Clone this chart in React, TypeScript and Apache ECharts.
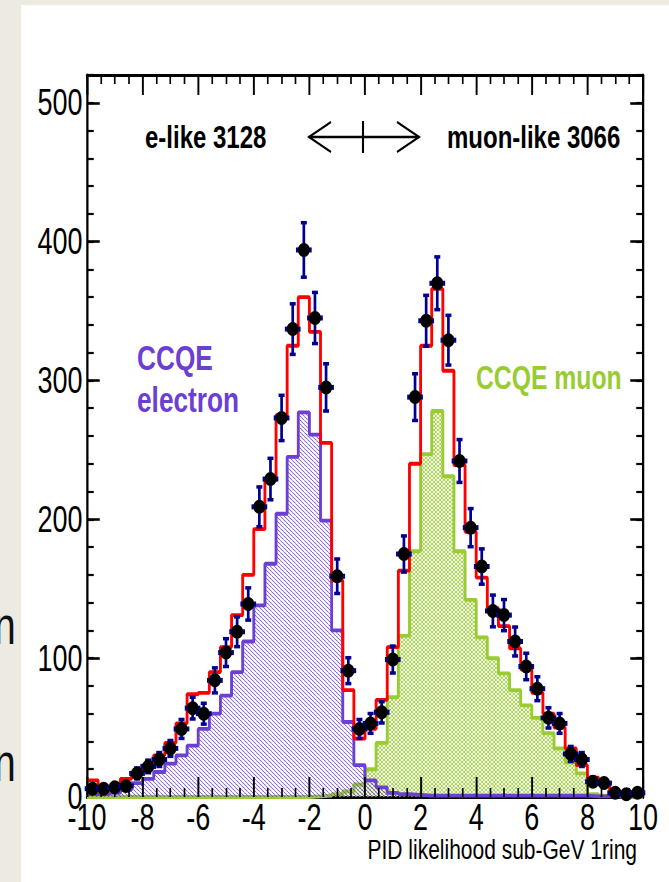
import React, { useEffect, useRef } from "react";
import * as echarts from "echarts";

// ---- data ----
const binCenters = [
  -9.8, -9.4, -9.0, -8.6, -8.2, -7.8, -7.4, -7.0, -6.6, -6.2,
  -5.8, -5.4, -5.0, -4.6, -4.2, -3.8, -3.4, -3.0, -2.6, -2.2,
  -1.8, -1.4, -1.0, -0.6, -0.2, 0.2, 0.6, 1.0, 1.4, 1.8,
  2.2, 2.6, 3.0, 3.4, 3.8, 4.2, 4.6, 5.0, 5.4, 5.8,
  6.2, 6.6, 7.0, 7.4, 7.8, 8.2, 8.6, 9.0, 9.4, 9.8,
];
const binWidth = 0.4;

const dataCounts = [
  6, 6, 7, 8, 17, 22, 27, 35, 49, 64,
  60, 84, 104, 119, 139, 209, 229, 273, 337, 394,
  345, 295, 159, 91, 49, 53, 61, 99, 175, 288,
  343, 370, 329, 242, 194, 166, 134, 131, 112, 94,
  78, 57, 53, 31, 27, 11, 10, 3, 2, 3,
];
const dataErrors = [
  2.5, 2.5, 2.6, 2.8, 4.1, 4.7, 5.2, 5.9, 7, 8,
  7.7, 9.2, 10.2, 10.9, 11.8, 14.5, 15.1, 16.5, 18.4, 19.8,
  18.6, 17.2, 12.6, 9.5, 7, 7.3, 7.8, 9.9, 13.2, 17,
  18.5, 19.2, 18.1, 15.6, 13.9, 12.9, 11.6, 11.4, 10.6, 9.7,
  8.8, 7.5, 7.3, 5.6, 5.2, 3.3, 3.2, 1.7, 1.4, 1.7,
];
const totalMC = [
  12, 7, 7, 13, 17, 23, 30, 39, 53, 74,
  75, 90, 108, 131, 160, 193, 228, 275, 325, 360,
  335, 255, 156, 77, 42, 49, 70, 108, 163, 240,
  325, 366, 307, 239, 191, 158, 136, 123, 107, 92,
  75, 60, 50, 35, 23, 14, 9, 4, 2, 1,
];
const ccqeElectron = [
  2, 2, 3, 5, 10, 13, 18, 24, 30, 37,
  49, 60, 73, 90, 112, 138, 168, 204, 245, 277,
  261, 199, 120, 54, 23, 12, 7, 3, 2, 1.5,
  1, 1, 1, 1, 1, 1, 1, 1, 1, 1,
  1, 1, 1, 1, 1, 0.5, 0.5, 0.5, 0.5, 0.5,
];
const ccqeMuon = [
  0, 0, 0, 0, 0, 0, 0, 0, 0, 0,
  0, 0, 0, 0, 0, 0, 0, 0, 0, 0,
  0.5, 1, 2, 4, 9, 20, 39, 72, 116, 177,
  247, 278, 231, 177, 142, 115, 100, 89, 77, 66,
  57, 46, 35, 25, 17, 2, 1, 0.5, 0, 0,
];
const eLikeLabel = "e-like 3128";
const muLikeLabel = "muon-like 3066";
const xTitle = "PID likelihood sub-GeV 1ring";

// ---- layout ----
const SX = 0.75; // horizontal squeeze of the whole picture
const W = 669 / SX;
const H = 882;
const px = (x: number) => x / SX; // reference x -> chart x

const RED = "#ff0000";
const PURPLE = "#6b3fd3";
const GREEN = "#99cc33";
const NAVY = "#000090";
const FONT = "'Liberation Sans', Arial, Helvetica, sans-serif";

function toStep(values: number[]) {
  const pts: number[][] = binCenters.map((c, i) => [c - binWidth / 2, values[i]]);
  const last = binCenters.length - 1;
  pts.push([binCenters[last] + binWidth / 2, values[last]]);
  return pts;
}

function hatch(color: string, cross: boolean) {
  const c = document.createElement("canvas");
  const w = 16, h = 12, n = 3;
  c.width = w;
  c.height = h;
  const ctx = c.getContext("2d")!;
  ctx.strokeStyle = color;
  ctx.lineWidth = 1.0;
  for (let k = -n; k <= n; k++) {
    const x0 = (k * w) / n;
    ctx.beginPath();
    ctx.moveTo(x0, 0);
    ctx.lineTo(x0 + w, h);
    ctx.stroke();
    if (cross) {
      ctx.beginPath();
      ctx.moveTo(x0 + w, 0);
      ctx.lineTo(x0, h);
      ctx.stroke();
    }
  }
  return c;
}

export default function App() {
  const ref = useRef<HTMLDivElement>(null);

  useEffect(() => {
    if (!ref.current) return;
    const chart = echarts.init(ref.current, undefined, { renderer: "svg", width: W, height: H });

    const frameLine = { show: true, onZero: false, lineStyle: { color: "#000", width: 3 } };
    const noLine = { show: false, onZero: false };
    const xMajor = { show: true, inside: true, length: 20, lineStyle: { color: "#000", width: 2.6 } };
    const xMinor = { show: true, splitNumber: 4, length: 9, lineStyle: { color: "#000", width: 2.2 } };
    const yMajor = { show: true, inside: true, length: 17, lineStyle: { color: "#000", width: 2.6 } };
    const yMinorTick = { show: true, inside: true, length: 9, lineStyle: { color: "#000", width: 2.2 } };
    const labelStyle = { fontSize: 36, color: "#000", fontFamily: FONT };

    const baseX = { type: "value", min: -10, max: 10, interval: 2, splitLine: { show: false } };
    const baseY = { type: "value", min: 0, max: 520, splitLine: { show: false } };

    const option: any = {
      animation: false,
      backgroundColor: "#ffffff",
      grid: { left: px(87), right: W - px(643), top: 75, bottom: 85, containLabel: false },
      xAxis: [
        {
          ...baseX,
          position: "bottom",
          z: 0,
          axisLine: frameLine,
          axisTick: { show: false },
          axisLabel: { show: true, margin: 7, lineHeight: 28, ...labelStyle },
        },
        {
          ...baseX,
          position: "top",
          axisLine: frameLine,
          axisTick: xMajor,
          minorTick: xMinor,
          axisLabel: { show: false },
        },
        {
          ...baseX,
          position: "bottom",
          offset: 0,
          z: 10,
          axisLine: noLine,
          axisTick: xMajor,
          minorTick: xMinor,
          axisLabel: { show: false },
        },
      ],
      yAxis: [
        {
          ...baseY,
          interval: 100,
          position: "left",
          axisLine: frameLine,
          axisTick: yMajor,
          axisLabel: { show: true, showMaxLabel: false, margin: 6, lineHeight: 28, ...labelStyle },
        },
        {
          ...baseY,
          interval: 20,
          position: "left",
          offset: 0,
          axisLine: noLine,
          axisTick: yMinorTick,
          axisLabel: { show: false },
        },
        {
          ...baseY,
          interval: 100,
          position: "right",
          offset: 0,
          axisLine: frameLine,
          axisTick: yMajor,
          axisLabel: { show: false },
        },
        {
          ...baseY,
          interval: 20,
          position: "right",
          offset: 0,
          axisLine: noLine,
          axisTick: yMinorTick,
          axisLabel: { show: false },
        },
      ],
      series: [
        {
          type: "line",
          name: "CCQE muon",
          xAxisIndex: 0,
          yAxisIndex: 0,
          data: toStep(ccqeMuon),
          step: "end",
          symbol: "none",
          z: 3,
          lineStyle: { color: GREEN, width: 3.8 },
          areaStyle: { color: { image: hatch(GREEN, true), repeat: "repeat" }, opacity: 1 },
        },
        {
          type: "line",
          name: "CCQE electron",
          xAxisIndex: 0,
          yAxisIndex: 0,
          data: toStep(ccqeElectron),
          step: "end",
          symbol: "none",
          z: 4,
          lineStyle: { color: PURPLE, width: 3.8 },
          areaStyle: { color: { image: hatch(PURPLE, false), repeat: "repeat" }, opacity: 1 },
        },
        {
          type: "line",
          name: "Total MC",
          xAxisIndex: 0,
          yAxisIndex: 0,
          data: toStep(totalMC),
          step: "end",
          symbol: "none",
          z: 5,
          lineStyle: { color: RED, width: 3.8 },
        },
        {
          type: "custom",
          name: "Data",
          xAxisIndex: 0,
          yAxisIndex: 0,
          z: 12,
          data: binCenters.map((c, i) => [c, dataCounts[i], dataErrors[i]]),
          encode: { x: 0, y: 1 },
          renderItem: (params: any, api: any) => {
            const x = api.value(0);
            const y = api.value(1);
            const e = api.value(2);
            const c = api.coord([x, y]);
            const top = api.coord([x, y + e]);
            const bot = api.coord([x, y - e]);
            return {
              type: "group",
              children: [
                { type: "line", shape: { x1: c[0], y1: top[1], x2: c[0], y2: bot[1] }, style: { stroke: NAVY, lineWidth: 3.6 } },
                { type: "rect", shape: { x: c[0] - 4, y: top[1] - 1.5, width: 8, height: 3.5 }, style: { fill: NAVY } },
                { type: "rect", shape: { x: c[0] - 4, y: bot[1] - 2, width: 8, height: 3.5 }, style: { fill: NAVY } },
                { type: "rect", shape: { x: c[0] - 10.5, y: c[1] - 2.5, width: 21, height: 5 }, style: { fill: NAVY } },
                { type: "ellipse", shape: { cx: c[0], cy: c[1], rx: 8, ry: 7 }, style: { fill: "#000" } },
              ],
            };
          },
        },
      ],
      graphic: [
        { type: "rect", z: 0, shape: { x: 0, y: 0, width: px(21), height: H }, style: { fill: "#edeae1" } },
        { type: "rect", z: 0, shape: { x: 0, y: 0, width: W, height: 5 }, style: { fill: "#edeae1" } },
        { type: "text", z: 1, x: -8, y: 626, style: { text: "n", font: `52px ${FONT}`, fill: "#111", textVerticalAlign: "middle" } },
        { type: "text", z: 1, x: -8, y: 763, style: { text: "n", font: `52px ${FONT}`, fill: "#111", textVerticalAlign: "middle" } },
        { type: "text", z: 20, x: px(145), y: 137, style: { text: eLikeLabel, font: `bold 32px ${FONT}`, fill: "#000", textVerticalAlign: "middle" } },
        { type: "text", z: 20, x: px(447), y: 137, style: { text: muLikeLabel, font: `bold 32px ${FONT}`, fill: "#000", textVerticalAlign: "middle" } },
        { type: "line", z: 20, shape: { x1: px(309), y1: 137, x2: px(419), y2: 137 }, style: { stroke: "#000", lineWidth: 2.4 } },
        { type: "polyline", z: 20, shape: { points: [[px(331), 122], [px(309), 137], [px(331), 152]] }, style: { stroke: "#000", lineWidth: 2.4, fill: null } },
        { type: "polyline", z: 20, shape: { points: [[px(397), 122], [px(419), 137], [px(397), 152]] }, style: { stroke: "#000", lineWidth: 2.4, fill: null } },
        { type: "line", z: 20, shape: { x1: px(363), y1: 121, x2: px(363), y2: 153 }, style: { stroke: "#000", lineWidth: 2.8 } },
        { type: "text", z: 20, x: px(137), y: 358, style: { text: "CCQE", font: `bold 35px ${FONT}`, fill: PURPLE, textVerticalAlign: "middle" } },
        { type: "text", z: 20, x: px(137), y: 400, style: { text: "electron", font: `bold 35px ${FONT}`, fill: PURPLE, textVerticalAlign: "middle" } },
        { type: "text", z: 20, x: px(476), y: 378, style: { text: "CCQE muon", font: `bold 33px ${FONT}`, fill: GREEN, textVerticalAlign: "middle" } },
        { type: "text", z: 20, x: px(637), y: 849, style: { text: xTitle, font: `28px ${FONT}`, fill: "#000", textAlign: "right", textVerticalAlign: "middle" } },
      ],
    };

    chart.setOption(option);
    return () => chart.dispose();
  }, []);

  return (
    <div style={{ position: "fixed", left: 0, top: 0, width: 669, height: 882, overflow: "hidden", background: "#fff" }}>
      <div
        ref={ref}
        style={{ width: W, height: H, transform: `scaleX(${SX})`, transformOrigin: "0 0" }}
      />
    </div>
  );
}
